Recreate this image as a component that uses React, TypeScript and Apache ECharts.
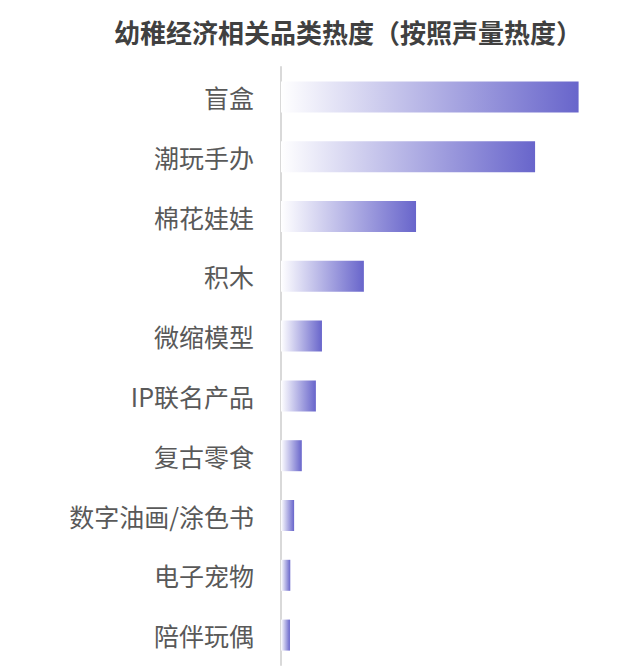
import React, { useEffect, useRef } from "react";
import * as echarts from "echarts";

const titleText = "幼稚经济相关品类热度（按照声量热度）";
const categories = [
  "盲盒",
  "潮玩手办",
  "棉花娃娃",
  "积木",
  "微缩模型",
  "IP联名产品",
  "复古零食",
  "数字油画/涂色书",
  "电子宠物",
  "陪伴玩偶",
];
const heatValues = [93, 79.4, 42.2, 25.9, 12.8, 10.9, 6.5, 4.1, 2.9, 2.8];

export default function App() {
  const ref = useRef<HTMLDivElement>(null);
  useEffect(() => {
    document.body.style.margin = "0";
    if (!ref.current) return;
    const chart = echarts.init(ref.current, undefined, { renderer: "svg" });
    const font = "'Noto Sans CJK SC', 'Noto Sans', sans-serif";
    chart.setOption({
      animation: false,
      backgroundColor: "#ffffff",
      title: {
        text: titleText,
        left: 109,
        top: 13,
        textStyle: {
          fontSize: 26,
          fontWeight: "bold",
          color: "#404040",
          fontFamily: font,
        },
      },
      grid: { left: 281, right: 41, top: 67, bottom: 6, containLabel: false },
      xAxis: {
        type: "value",
        min: 0,
        max: 100,
        show: false,
      },
      yAxis: {
        type: "category",
        inverse: true,
        data: categories,
        axisLine: { show: true, lineStyle: { color: "#d9d9d9", width: 2 } },
        axisTick: { show: false },
        splitLine: { show: false },
        axisLabel: {
          fontSize: 25,
          color: "#595959",
          margin: 27,
          fontFamily: font,
        },
      },
      series: [
        {
          type: "bar",
          data: heatValues,
          barWidth: 31,
          itemStyle: {
            color: new echarts.graphic.LinearGradient(0, 0, 1, 0, [
              { offset: 0, color: "#ffffff" },
              { offset: 1, color: "#6865cb" },
            ]),
          },
        },
      ],
    });
    return () => chart.dispose();
  }, []);
  return <div ref={ref} style={{ width: 642, height: 671 }} />;
}
